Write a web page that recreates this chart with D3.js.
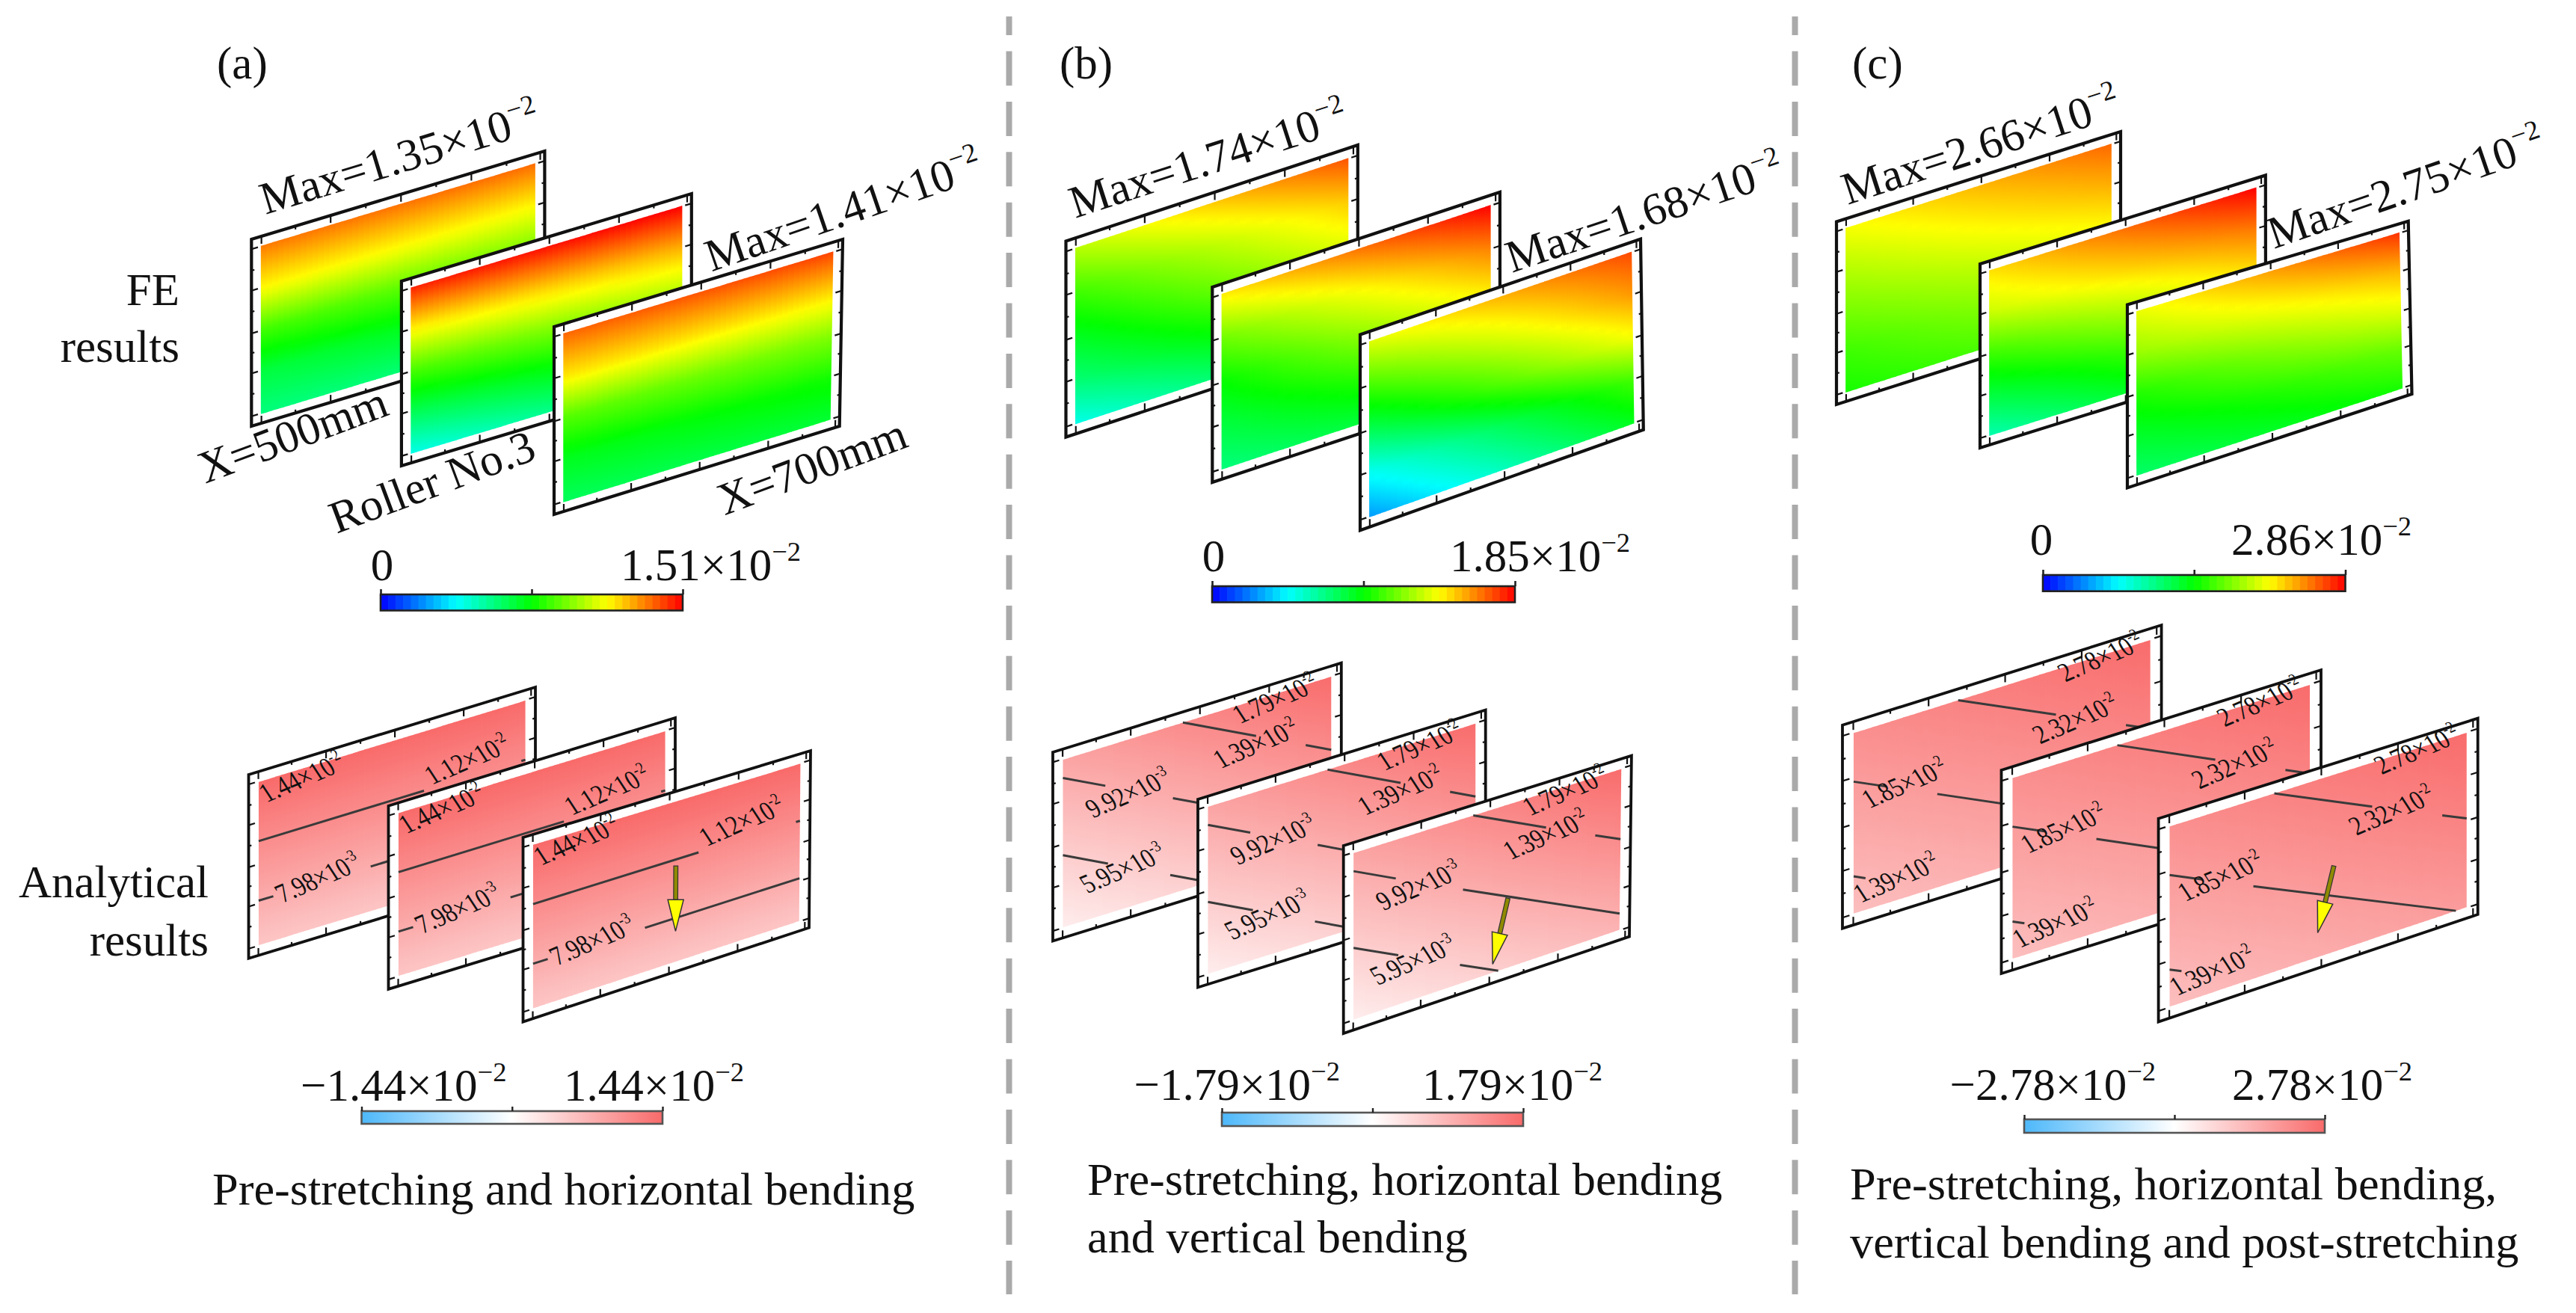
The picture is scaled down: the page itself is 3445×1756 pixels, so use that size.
<!DOCTYPE html>
<html><head><meta charset="utf-8">
<script src="https://cdn.jsdelivr.net/npm/d3@7"></script>
<style>html,body{margin:0;padding:0;background:#fff}svg{display:block}text{font-family:"Liberation Serif",serif;fill:#111}</style>
</head><body><svg id="c" width="3445" height="1756" viewBox="0 0 3445 1756"></svg>
<script>
// ---------- DATA (strain, x10^-2) ----------
const columnNames = ["(a)", "(b)", "(c)"];
const rowNames = [["FE", "results"], ["Analytical", "results"]];
const captions = [
  ["Pre-stretching and horizontal bending"],
  ["Pre-stretching, horizontal bending", "and vertical bending"],
  ["Pre-stretching, horizontal bending,", "vertical bending and post-stretching"]
];
const feMax = [1.51, 1.85, 2.86];
const anMax = [1.44, 1.79, 2.78];
// FE field read down the left and right edge of each plate (top to bottom)
const feA = [
  {left:[1.33,1.14,.85,.66,.57], right:[1.35,1.14,.93,.76,.60]},
  {left:[1.46,1.15,.86,.63,.41], right:[1.51,1.25,1.03,.83,.68]},
  {left:[1.36,1.17,.88,.71,.62], right:[1.41,1.18,.95,.78,.68]}];
const feB = [
  {left:[1.26,1.04,.87,.72,.50], right:[1.70,1.48,1.33,1.11,.93]},
  {left:[1.42,1.13,.93,.81,.70], right:[1.85,1.61,1.41,1.15,.93]},
  {left:[1.33,1.05,.78,.48,.28], right:[1.72,1.57,1.37,1.04,.87]}];
const feC = [
  {left:[2.12,1.94,1.77,1.60,1.49], right:[2.57,2.37,2.15,1.97,1.77]},
  {left:[2.23,2.00,1.60,1.26,.94], right:[2.86,2.52,2.23,1.89,1.66]},
  {left:[2.09,1.86,1.52,1.32,1.14], right:[2.72,2.35,2.06,1.72,1.49]}];
// Analytical field: left edge [top,bottom], right edge [top,bottom]
const anFields = [
  {left:[1.44,.558], right:[1.44,.558]},
  {left:[1.086,.225], right:[1.766,.905]},
  {left:[2.086,1.21], right:[2.75,1.875]}];
const anLevels = [
  [{value:1.12,mant:"1.12",exp:"-2"},{value:.798,mant:"7.98",exp:"-3"}],
  [{value:1.39,mant:"1.39",exp:"-2"},{value:.992,mant:"9.92",exp:"-3"},{value:.595,mant:"5.95",exp:"-3"}],
  [{value:2.32,mant:"2.32",exp:"-2"},{value:1.85,mant:"1.85",exp:"-2"},{value:1.39,mant:"1.39",exp:"-2"}]];
const anPeak = ["1.44","1.79","2.78"];
const maxLabels = [["1.35","1.41"],["1.74","1.68"],["2.66","2.75"]];
const planeLabels = ["X=500mm","Roller No.3","X=700mm"];

// ---------- LAYOUT ----------
const feFrames = [
 [{tl:[336.3,320],tr:[728.4,202],br:[728.4,452],bl:[336.3,570]},
  {tl:[536.9,376],tr:[924.8,259],br:[924.8,506],bl:[536.9,623]},
  {tl:[741,437],tr:[1127,320],br:[1122.7,570],bl:[741,688]}],
 [{tl:[1425.5,322.5],tr:[1815.8,194],br:[1815.8,456],bl:[1425.5,584.6]},
  {tl:[1621.3,384],tr:[2005.9,257],br:[2006,518],bl:[1621.3,645]},
  {tl:[1819,447.4],tr:[2194,319.7],br:[2197.8,574.7],bl:[1819,709.2]}],
 [{tl:[2456,296.5],tr:[2836,176],br:[2836,420],bl:[2456,541]},
  {tl:[2648,353],tr:[3029.8,234.4],br:[3030,480],bl:[2648,599]},
  {tl:[2845,407.6],tr:[3220.7,295.7],br:[3225.5,527],bl:[2845,652.4]}]];
const anFrames = [
 [{tl:[332.5,1036],tr:[716,919],br:[716,1165],bl:[332.5,1281.8]},
  {tl:[519.5,1077.8],tr:[903,960],br:[903,1206],bl:[519.5,1322.9]},
  {tl:[699.5,1120],tr:[1084,1004],br:[1082,1240.7],bl:[699.5,1366.6]}],
 [{tl:[1408,1006],tr:[1793.8,886.6],br:[1793.8,1139],bl:[1408,1258.5]},
  {tl:[1602,1069],tr:[1986.7,949.5],br:[1986.7,1201],bl:[1602,1320.5]},
  {tl:[1796.7,1131],tr:[2181.9,1010.6],br:[2179,1252.6],bl:[1796.7,1382]}],
 [{tl:[2464,969.8],tr:[2890.6,836],br:[2890.6,1108],bl:[2464,1241.6]},
  {tl:[2676.5,1030],tr:[3104,896],br:[3104,1168],bl:[2676.5,1302]},
  {tl:[2886.6,1094.7],tr:[3313.7,960.6],br:[3313.7,1223],bl:[2886.6,1366.5]}]];
const feInset = {u:.032, v:.05}, anInset = {u:.035, v:.056};
// gaps of contour lines (u ranges kept), per level
const anSegments = [
  [[[0,.62],[.985,1]], [[0,.055],[.42,1]]],
  [[[.444,.72],[.905,1]], [[0,.158],[.41,1]], [[0,.168],[.40,1]]],
  [[[.34,.682],[.918,1]], [[0,.111],[.282,1]], [[0,.04]]]];
// label anchors [u,v] in plate data coords: peak label then one per level
const anAnchors = [
  {peak:[.03,.143], levels:[[.65,.342],[.09,.788]]},
  {peak:[.66,.114], levels:[[.588,.346],[.112,.406],[.091,.845]]},
  {peak:[.714,.087], levels:[[.629,.387],[.053,.446],[.025,.955]]}];
const arrows = [[[.535,.403],[.535,.81]], [[.579,.575],[.523,.948]], [[.553,.516],[.4986,.863]]];
const feBars = [{x0:509,x1:913,y0:795,y1:816.5},{x0:1621,x1:2026,y0:784,y1:805.5},{x0:2732,x1:3136.5,y0:769,y1:790.7}];
const anBars = [{x0:483.5,x1:886,y0:1486,y1:1503},{x0:1634,x1:2037,y0:1488,y1:1506},{x0:2707,x1:3109,y0:1497,y1:1515}];
const feBarLabels = [{zero:511,start:830,y:776},{zero:1623,start:1939,y:764},{zero:2730,start:2984,y:741.5}];
const anBarLabels = [{a:402,b:754,y:1471.5},{a:1516.5,b:1902,y:1470.6},{a:2607.6,b:2985,y:1471}];
const maxPos = [[[355,287],[951.5,363.6]],[[1438,292],[2022,365]],[[2471,274],[3041,333]]];
const maxAngle = [[-17,-19],[-18,-18.5],[-18,-19]];
const planePos = [[274.5,647],[450,714],[969,689.5]];
const headPos = [290,1417,2477];
const capPos = [{x:284,y:[1611.3]},{x:1454,y:[1598,1675]},{x:2474,y:[1604,1681.5]}];
const sepX = [1349.5,2400.5];
const F = 61, capF = 62.3;

const svg = d3.select("#c"), defs = svg.append("defs");
svg.append("rect").attr("width",3445).attr("height",1756).attr("fill","#fff");
const jet = m => d3.scaleLinear().domain([0,.25,.5,.75,1].map(t=>t*m)).range(["#0000ff","#00ffff","#00ff00","#ffff00","#ff0000"]);
const redBlue = m => d3.scaleLinear().domain([-m,0,m]).range(["#4db8fa","#ffffff","#f96a6a"]);
const line = d3.line();

function projector(q){
  const top = d3.scaleLinear().domain([0,1]).range([q.tl,q.tr]);
  const bot = d3.scaleLinear().domain([0,1]).range([q.bl,q.br]);
  return (u,v)=>{const a=top(u),b=bot(u);return [a[0]+(b[0]-a[0])*v,a[1]+(b[1]-a[1])*v];};
}
function supText(sel,txt,exp,f){
  sel.append("tspan").text(txt);
  sel.append("tspan").attr("font-size",f*.6).attr("dy",-f*.42).text(exp);
}
let gid=0;
function drawField(g,pd,field,color){
  const N=48, K=24;
  const lv=d3.scaleLinear().domain(field.left.map((d,i,a)=>i/(a.length-1))).range(field.left);
  const rv=d3.scaleLinear().domain(field.right.map((d,i,a)=>i/(a.length-1))).range(field.right);
  const strips=d3.range(N);
  strips.forEach(i=>{
    const um=(i+.5)/N, id="g"+(gid++);
    const a=pd(um,0), b=pd(um,1);
    const lg=defs.append("linearGradient").attr("id",id).attr("gradientUnits","userSpaceOnUse")
      .attr("x1",a[0]).attr("y1",a[1]).attr("x2",b[0]).attr("y2",b[1]);
    d3.range(K+1).forEach(k=>{const v=k/K;
      lg.append("stop").attr("offset",v).attr("stop-color",color(lv(v)*(1-um)+rv(v)*um));});
    const u0=i/N,u1=(i+1)/N,over=i<N-1?.8:0;
    const p0=pd(u0,0),p1=pd(u1,0),p2=pd(u1,1),p3=pd(u0,1);
    g.append("polygon").attr("points",[p0,[p1[0]+over,p1[1]],[p2[0]+over,p2[1]],p3].join(" ")).attr("fill",`url(#${id})`);
  });
}
function drawFrame(g,q,width){
  const p=projector(q);
  g.append("path").attr("d",line([q.tl,q.tr,q.br,q.bl])+"Z").attr("fill","#fff").attr("stroke","#111").attr("stroke-width",width).attr("stroke-linejoin","miter");
  return p;
}
function drawTicks(g,p){
  const uT=[.034,.15,.27,.39,.51,.63,.75,.87,.985];
  const vT=[.053,.168,.275,.389,.504,.61,.718,.83,.947];
  const t=g.append("g").attr("stroke","#111").attr("stroke-width",2.2);
  uT.forEach((u,i)=>{const l=i%2?.018:.04;
    [[0,l],[1,1-l]].forEach(([a,b])=>{const s=p(u,a),e=p(u,b);t.append("line").attr("x1",s[0]).attr("y1",s[1]).attr("x2",e[0]).attr("y2",e[1]);});});
  vT.forEach((v,i)=>{const l=i%2?.01:.022;
    [[0,l],[1,1-l]].forEach(([a,b])=>{const s=p(a,v),e=p(b,v);t.append("line").attr("x1",s[0]).attr("y1",s[1]).attr("x2",e[0]).attr("y2",e[1]);});});
}
function drawArrow(g,a,b){
  const dx=b[0]-a[0],dy=b[1]-a[1],L=Math.hypot(dx,dy),ux=dx/L,uy=dy/L,nx=-uy,ny=ux;
  const hs=[b[0]-ux*42,b[1]-uy*42],sw=2.8,hw=10.5;
  g.append("polygon").attr("points",[[a[0]+nx*sw,a[1]+ny*sw],[a[0]-nx*sw,a[1]-ny*sw],[hs[0]-nx*sw,hs[1]-ny*sw],[hs[0]+nx*sw,hs[1]+ny*sw]].join(" ")).attr("fill","#8f8a00").attr("stroke","#333").attr("stroke-width",1.2);
  g.append("polygon").attr("points",[[hs[0]+nx*hw,hs[1]+ny*hw],b,[hs[0]-nx*hw,hs[1]-ny*hw]].join(" ")).attr("fill","#ffff00").attr("stroke","#333").attr("stroke-width",1.5);
}
function smallLabel(g,pt,mant,exp){
  const t=g.append("text").attr("transform",`translate(${pt[0]},${pt[1]}) rotate(-23) skewX(10) scale(1,1.2)`).attr("font-size",31).attr("fill","#222");
  supText(t,mant+"×10",exp,31);
}

[feA,feB,feC].forEach((set,c)=>{
  const g=svg.append("g").attr("class","fe");
  const col=jet(feMax[c]);
  set.forEach((field,i)=>{
    const q=feFrames[c][i], pg=g.append("g");
    const p=drawFrame(pg,q,4.2);
    const pd=(u,v)=>p(feInset.u+u*(1-2*feInset.u),feInset.v+v*(1-2*feInset.v));
    drawField(pg,pd,field,col);
    drawTicks(pg,p);
  });
  // colour bar
  const b=feBars[c], x=d3.scaleLinear().domain([0,feMax[c]]).range([b.x0,b.x1]);
  const nb=40, bar=svg.append("g");
  bar.selectAll("rect").data(d3.range(nb)).join("rect")
    .attr("x",d=>x(d/nb*feMax[c])).attr("y",b.y0).attr("width",(b.x1-b.x0)/nb+.6).attr("height",b.y1-b.y0)
    .attr("fill",d=>col((d+.5)/nb*feMax[c]));
  bar.append("rect").attr("x",b.x0).attr("y",b.y0).attr("width",b.x1-b.x0).attr("height",b.y1-b.y0).attr("fill","none").attr("stroke","#222").attr("stroke-width",2.6);
  const ax=d3.axisTop(x).tickValues([0,feMax[c]/2,feMax[c]]).tickSize(7).tickFormat("");
  const ag=bar.append("g").attr("transform",`translate(0,${b.y0})`).call(ax);
  ag.select(".domain").remove(); ag.selectAll("line").attr("stroke","#222").attr("stroke-width",2.6);
  const l=feBarLabels[c];
  svg.append("text").attr("x",l.zero).attr("y",l.y).attr("text-anchor","middle").attr("font-size",F).text("0");
  supText(svg.append("text").attr("x",l.start).attr("y",l.y).attr("font-size",F),feMax[c].toFixed(2)+"×10","−2",F);
  // Max labels
  maxLabels[c].forEach((m,i)=>{
    const pos=maxPos[c][i];
    supText(svg.append("text").attr("transform",`translate(${pos[0]},${pos[1]}) rotate(${maxAngle[c][i]})`).attr("font-size",F),"Max="+m+"×10","−2",F);
  });
  if(c===0) planeLabels.forEach((t,i)=>{
    svg.append("text").attr("transform",`translate(${planePos[i][0]},${planePos[i][1]}) rotate(-20.5)`).attr("font-size",F).text(t);
  });
});

anFields.forEach((field,c)=>{
  const g=svg.append("g").attr("class","analytical");
  const col=redBlue(anMax[c]);
  anFrames[c].forEach((q,i)=>{
    const pg=g.append("g");
    const p=drawFrame(pg,q,3.8);
    const pd=(u,v)=>p(anInset.u+u*(1-2*anInset.u),anInset.v+v*(1-2*anInset.v));
    drawField(pg,pd,field,col);
    drawTicks(pg,p);
    // contour lines through the planar field
    const tl=field.left[0],tr=field.right[0],bl=field.left[1];
    anLevels[c].forEach((lev,li)=>{
      const vAt=u=>(lev.value-tl-(tr-tl)*u)/(bl-tl);
      anSegments[c][li].forEach(seg=>{
        let [a,b]=seg;
        const k=vAt(1)-vAt(0);
        if(k!==0){ const ua=(0-vAt(0))/k, ub=(1-vAt(0))/k, lo=Math.min(ua,ub), hi=Math.max(ua,ub); a=Math.max(a,lo); b=Math.min(b,hi); }
        if(b>a) pg.append("path").attr("d",line([pd(a,vAt(a)),pd(b,vAt(b))])).attr("stroke","#3a3a3a").attr("stroke-width",3).attr("fill","none");
      });
    });
    const an=anAnchors[c];
    smallLabel(pg,pd(an.peak[0],an.peak[1]),anPeak[c],"-2");
    anLevels[c].forEach((lev,li)=>smallLabel(pg,pd(an.levels[li][0],an.levels[li][1]),lev.mant,lev.exp));
    if(i===2) drawArrow(pg,pd(arrows[c][0][0],arrows[c][0][1]),pd(arrows[c][1][0],arrows[c][1][1]));
  });
  const b=anBars[c], x=d3.scaleLinear().domain([-anMax[c],anMax[c]]).range([b.x0,b.x1]);
  const id="bar"+c, lg=defs.append("linearGradient").attr("id",id);
  [-1,0,1].forEach(t=>lg.append("stop").attr("offset",(t+1)/2).attr("stop-color",col(t*anMax[c])));
  const bar=svg.append("g");
  bar.append("rect").attr("x",b.x0).attr("y",b.y0).attr("width",b.x1-b.x0).attr("height",b.y1-b.y0).attr("fill",`url(#${id})`).attr("stroke","#555").attr("stroke-width",2.6);
  const ag=bar.append("g").attr("transform",`translate(0,${b.y0})`).call(d3.axisTop(x).tickValues([-anMax[c],0,anMax[c]]).tickSize(6).tickFormat(""));
  ag.select(".domain").remove(); ag.selectAll("line").attr("stroke","#222").attr("stroke-width",2.4);
  const l=anBarLabels[c];
  supText(svg.append("text").attr("x",l.a).attr("y",l.y).attr("font-size",F),"−"+anMax[c].toFixed(2)+"×10","−2",F);
  supText(svg.append("text").attr("x",l.b).attr("y",l.y).attr("font-size",F),anMax[c].toFixed(2)+"×10","−2",F);
});

columnNames.forEach((t,i)=>svg.append("text").attr("x",headPos[i]).attr("y",105).attr("font-size",F).text(t));
[[240,[407.6,484]],[279,[1200.4,1277.8]]].forEach(([x,ys],i)=>rowNames[i].forEach((t,j)=>
  svg.append("text").attr("x",x).attr("y",ys[j]).attr("text-anchor","end").attr("font-size",F).text(t)));
captions.forEach((lines,i)=>lines.forEach((t,j)=>
  svg.append("text").attr("x",capPos[i].x).attr("y",capPos[i].y[j]).attr("font-size",capF).text(t)));
svg.selectAll(".sep").data(sepX).join("line").attr("x1",d=>d).attr("x2",d=>d).attr("y1",22).attr("y2",1731)
  .attr("stroke","#aaaaaa").attr("stroke-width",8).attr("stroke-dasharray","46 21.4").attr("stroke-dashoffset",20.9);
</script></body></html>
